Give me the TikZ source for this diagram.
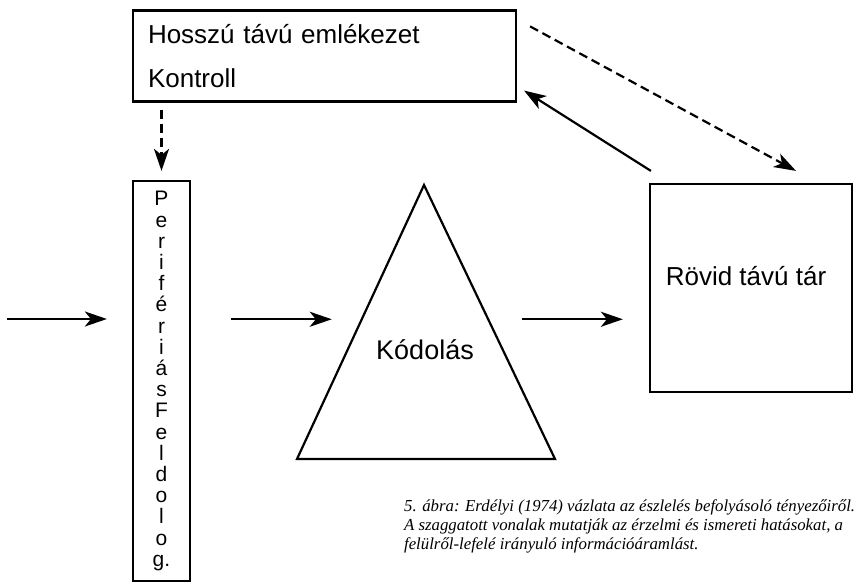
\documentclass[tikz,border=0pt]{standalone}
\usepackage{fontspec}
\setmainfont{Liberation Sans}
\newfontfamily\captionfont{Liberation Serif}
\usetikzlibrary{arrows.meta,calc}

\begin{document}
\begin{tikzpicture}[x=1pt,y=-1pt,line width=2.2pt]
			\tikzset{box/.style={draw,inner sep=0pt,font=\fontsize{26}{44}\selectfont}}
			\tikzset{arr/.style={-{Stealth[length=22pt,width=15pt,inset=6pt]}}}
			\tikzset{dsh/.style={arr,dash pattern=on 9pt off 5pt}}
			\useasboundingbox (0,0) rectangle (854,583);
			\node[box,minimum width=383pt,minimum height=91pt,text width=353pt,align=left] (hossz) at (324.5,56) {Hosszú távú emlékezet\\Kontroll};
			\node[box,minimum width=57pt,minimum height=400pt,align=center,font=\fontsize{21}{21.2}\selectfont] (perif) at (161.5,381) {P\\e\\r\\i\\f\\é\\r\\i\\á\\s\\F\\e\\l\\d\\o\\l\\o\\g.};
			\draw (297,459) coordinate (kbal) -- (424,185) coordinate (kcsucs) -- (555,459) coordinate (kjobb) -- cycle;
			\node[font=\fontsize{27}{30}\selectfont] (kod) at (425,350) {Kódolás};
			\node[box,minimum width=202pt,minimum height=208pt] (rovid) at (751,288) {};
			\node[font=\fontsize{26}{30}\selectfont] (rovidszoveg) at (746,276) {Rövid távú tár};
			\node[font=\captionfont\itshape\fontsize{16.8}{19}\selectfont,align=left,anchor=north west,inner sep=0pt] (felirat) at (403,499) {5. ábra: Erdélyi (1974) vázlata az észlelés befolyásoló tényezőiről.\\A szaggatott vonalak mutatják az érzelmi és ismereti hatásokat, a\\felülről-lefelé irányuló információáramlást.};
			\coordinate (be) at (7,319);
			\coordinate (kbe) at ($(kbal)!0.51!(kcsucs)$);
			\coordinate (kki) at ($(kjobb)!0.51!(kcsucs)$);
			\draw[arr,shorten >=25pt] (be) -- (perif.west |- be);
			\draw[arr,shorten <=40pt,shorten >=30pt] (perif.east |- kbe) -- (kbe);
			\draw[arr,shorten <=34pt,shorten >=26pt] (kki) -- (rovid.west |- kki);
			\draw[dsh,shorten <=7pt,shorten >=9pt] (hossz.south -| perif) -- (perif.north);
			\draw[dsh] ([shift={(13,17)}]hossz.north east) -- ([shift={(45,-12)}]rovid.north);
			\draw[arr] ([shift={(2,-12)}]rovid.north west) -- ([shift={(7,-12)}]hossz.south east);
		\end{tikzpicture}
\end{document}
